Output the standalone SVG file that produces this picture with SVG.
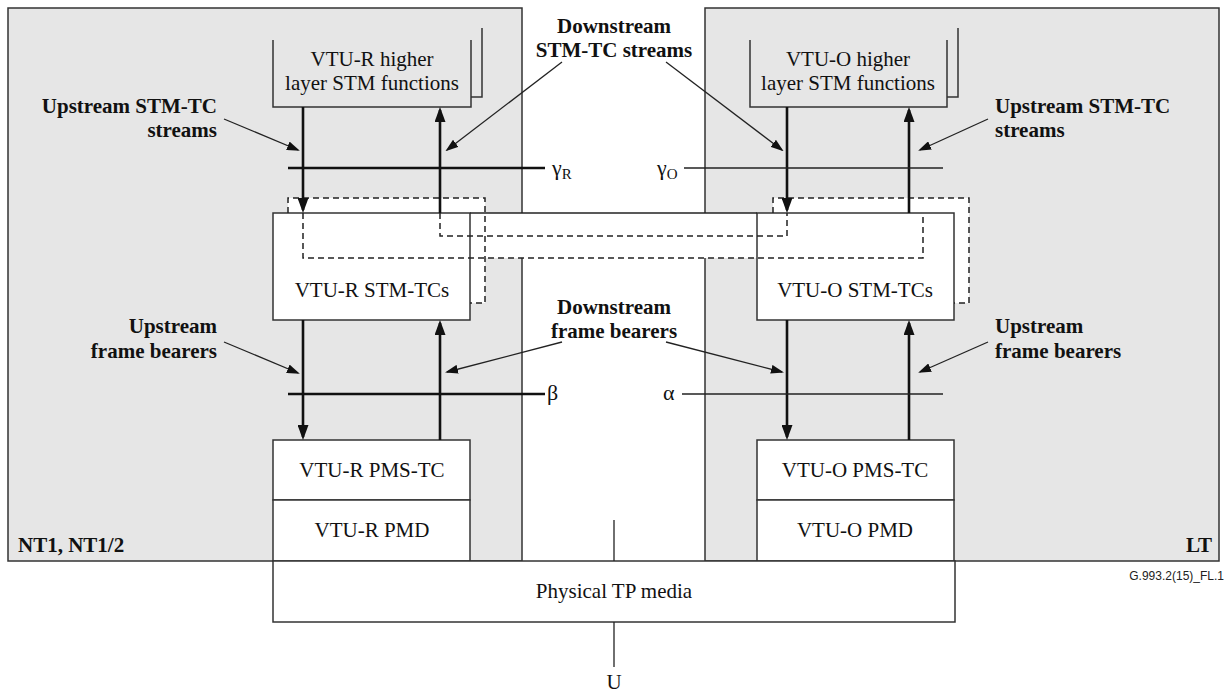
<svg xmlns="http://www.w3.org/2000/svg" width="1227" height="692" viewBox="0 0 1227 692">
<style>
.panel{fill:#e6e6e6;stroke:#333;stroke-width:1.5}
.box{fill:#fff;stroke:#333;stroke-width:1.5}
.open{fill:none;stroke:#333;stroke-width:1.5}
.dash{fill:none;stroke:#222;stroke-width:1.5;stroke-dasharray:6,4}
.thick{fill:none;stroke:#111;stroke-width:2.6}
.thin{fill:none;stroke:#222;stroke-width:1.3}
.t{font-family:"Liberation Serif",serif;font-size:21px;fill:#111;text-anchor:middle}
.b{font-family:"Liberation Serif",serif;font-size:21px;font-weight:bold;fill:#111}
.g{font-family:"Liberation Serif",serif;font-size:22px;fill:#111}
.s{font-family:"Liberation Sans",sans-serif;font-size:12px;fill:#222;text-anchor:end}
</style>
<defs>
<marker id="big" viewBox="0 0 15 11" refX="12" refY="5.5" markerWidth="15" markerHeight="11" markerUnits="userSpaceOnUse" orient="auto"><path d="M0,0 L15,5.5 L0,11 z" fill="#111"/></marker>
<marker id="sm" viewBox="0 0 13 9" refX="11" refY="4.5" markerWidth="13" markerHeight="9" markerUnits="userSpaceOnUse" orient="auto"><path d="M0,0 L13,4.5 L0,9 z" fill="#111"/></marker>
</defs>
<g id="panel-nt">
<rect class="panel" x="8" y="8" width="514" height="553"/>
<text class="b" x="18" y="552">NT1, NT1/2</text>
</g>
<g id="panel-lt">
<rect class="panel" x="705" y="8" width="514" height="553"/>
<text class="b" x="1212" y="552" text-anchor="end">LT</text>
</g>
<g id="white-areas">
<path d="M288,198 H485 V303 H470 V213 H288 Z" fill="#fff"/>
<path d="M773,198 H969 V303 H954 V213 H773 Z" fill="#fff"/>
<rect x="470" y="213" width="287" height="45" fill="#fff"/>
</g>
<g id="vtur-higher">
<path class="open" d="M273,40 V107 H471 V40"/>
<path class="open" d="M471,97 H482 V28"/>
<text class="t" x="372" y="66">VTU-R higher</text>
<text class="t" x="372" y="90">layer STM functions</text>
</g>
<g id="vtuo-higher">
<path class="open" d="M750,40 V107 H947 V40"/>
<path class="open" d="M947,97 H958 V28"/>
<text class="t" x="848" y="66">VTU-O higher</text>
<text class="t" x="848" y="90">layer STM functions</text>
</g>
<g id="vtur-stmtc">
<rect class="box" x="273" y="213" width="197" height="107"/>
<text class="t" x="372" y="297">VTU-R STM-TCs</text>
</g>
<g id="vtuo-stmtc">
<rect class="box" x="757" y="213" width="197" height="107"/>
<text class="t" x="855" y="297">VTU-O STM-TCs</text>
</g>
<g id="vtur-pmstc">
<rect class="box" x="273" y="440" width="197" height="60"/>
<text class="t" x="372" y="477">VTU-R PMS-TC</text>
</g>
<g id="vtur-pmd">
<rect class="box" x="273" y="500" width="197" height="61"/>
<text class="t" x="372" y="537">VTU-R PMD</text>
</g>
<g id="vtuo-pmstc">
<rect class="box" x="757" y="440" width="197" height="60"/>
<text class="t" x="855" y="477">VTU-O PMS-TC</text>
</g>
<g id="vtuo-pmd">
<rect class="box" x="757" y="500" width="197" height="61"/>
<text class="t" x="855" y="537">VTU-O PMD</text>
</g>
<g id="physical">
<rect class="box" x="273" y="561" width="682" height="61"/>
<text class="t" x="614" y="598">Physical TP media</text>
</g>
<g id="connectors">
<path class="dash" d="M288,213 V198 H485 V303 H470"/>
<path class="dash" d="M773,213 V198 H969 V303 H954"/>
<path class="dash" d="M303,213 V258 H923 V213"/>
<path class="dash" d="M440,213 V236 H787 V213"/>
<path class="thin" d="M470,213 H757"/>
<path class="thick" d="M303,107 V210" marker-end="url(#big)"/>
<path class="thick" d="M440,213 V110" marker-end="url(#big)"/>
<path class="thick" d="M787,107 V210" marker-end="url(#big)"/>
<path class="thick" d="M909,213 V110" marker-end="url(#big)"/>
<path class="thick" d="M303,320 V437" marker-end="url(#big)"/>
<path class="thick" d="M440,440 V323" marker-end="url(#big)"/>
<path class="thick" d="M787,320 V437" marker-end="url(#big)"/>
<path class="thick" d="M909,440 V323" marker-end="url(#big)"/>
<path class="thick" d="M288,168 H545"/>
<path class="thin" d="M684,168 H943"/>
<path class="thick" d="M288,394 H545"/>
<path class="thin" d="M682,394 H943"/>
<path class="thin" d="M614,520 V561"/>
<path class="thin" d="M614,622 V667"/>
<path class="thin" d="M224,119 L298,150" marker-end="url(#sm)"/>
<path class="thin" d="M224,342 L298,373" marker-end="url(#sm)"/>
<path class="thin" d="M988,119 L920,150" marker-end="url(#sm)"/>
<path class="thin" d="M988,342 L920,372" marker-end="url(#sm)"/>
<path class="thin" d="M562,62 L447,150" marker-end="url(#sm)"/>
<path class="thin" d="M666,62 L782,150" marker-end="url(#sm)"/>
<path class="thin" d="M562,342 L447,372" marker-end="url(#sm)"/>
<path class="thin" d="M666,342 L782,372" marker-end="url(#sm)"/>
</g>
<g id="labels">
<text class="b" x="217" y="113" text-anchor="end">Upstream STM-TC</text>
<text class="b" x="217" y="137" text-anchor="end">streams</text>
<text class="b" x="995" y="113">Upstream STM-TC</text>
<text class="b" x="995" y="137">streams</text>
<text class="b" x="614" y="33" text-anchor="middle">Downstream</text>
<text class="b" x="614" y="57" text-anchor="middle">STM-TC streams</text>
<text class="b" x="217" y="333" text-anchor="end">Upstream</text>
<text class="b" x="217" y="358" text-anchor="end">frame bearers</text>
<text class="b" x="995" y="333">Upstream</text>
<text class="b" x="995" y="358">frame bearers</text>
<text class="b" x="614" y="314" text-anchor="middle">Downstream</text>
<text class="b" x="614" y="338" text-anchor="middle">frame bearers</text>
<text class="g" x="552" y="175">γ<tspan font-size="15" dy="4">R</tspan></text>
<text class="g" x="657" y="175">γ<tspan font-size="15" dy="4">O</tspan></text>
<text class="g" x="547" y="400">β</text>
<text class="g" x="663" y="400">α</text>
<text class="t" x="614" y="689">U</text>
<text class="s" x="1224" y="580">G.993.2(15)_FL.1</text>
</g>
</svg>
